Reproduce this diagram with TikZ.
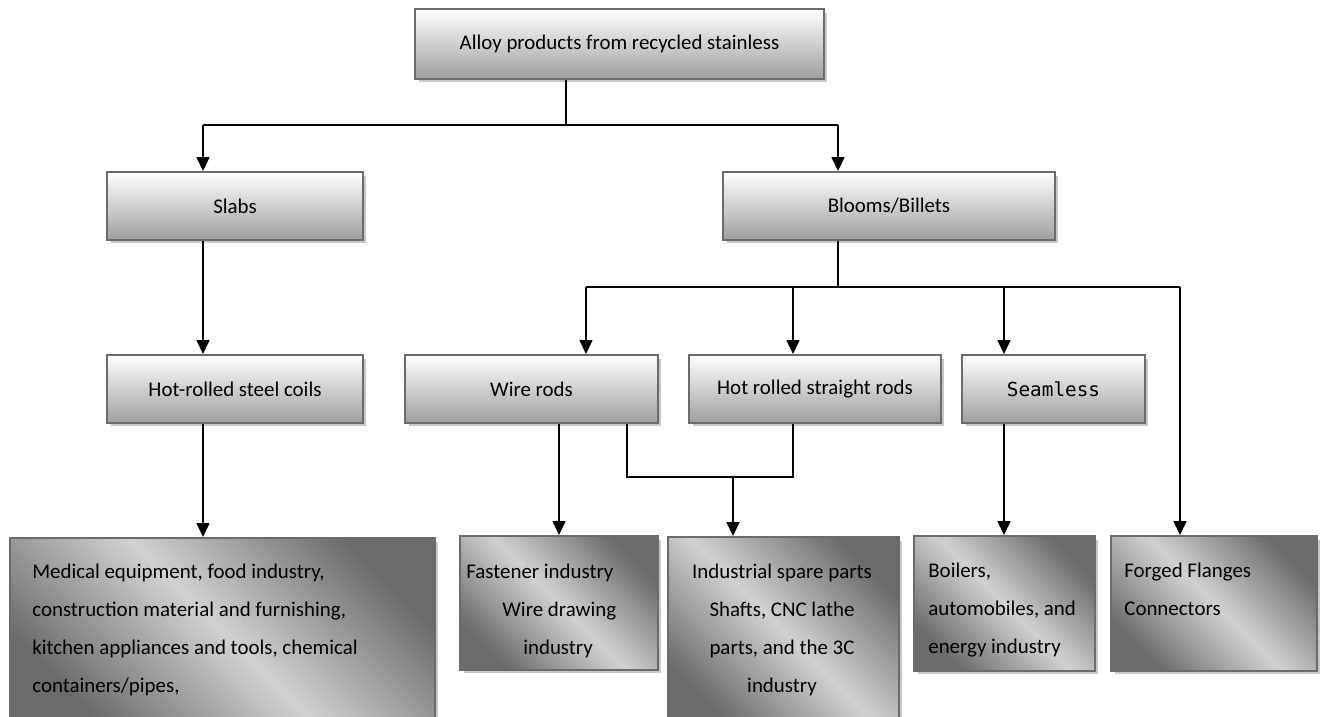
\documentclass[tikz,border=0pt]{standalone}
\usepackage{fontspec}
\setmainfont{Carlito}
\newfontfamily\seamfont{DejaVu Sans Mono}
\usetikzlibrary{arrows.meta,shadows}

\begin{document}
\begin{tikzpicture}[
    x=0.02cm, y=-0.02cm,
    every node/.style={font=\fontsize{11.9}{21.5}\selectfont},
    box/.style={draw=black!58, line width=1.1pt, minimum height=1.36cm, inner sep=0pt,
      top color=white, bottom color=black!38,
      drop shadow={shadow xshift=0.07cm, shadow yshift=-0.07cm, fill=black!22, opacity=1}},
    enduse/.style={box, top color=black!58, bottom color=black!58, middle color=black!18, shading angle=-45},
    txt/.style={align=left, anchor=north west, inner sep=0pt},
    line/.style={line width=0.85pt},
    arr/.style={line, -{Triangle[width=0.26cm,length=0.28cm]}}
]
\useasboundingbox (0,0) rectangle (1323,717);

% source and semi-finished products
\node[box, minimum width=8.18cm, minimum height=1.40cm] (alloy) at (619.5,44) {Alloy products from recycled stainless};
\node[box, minimum width=5.12cm] (slabs) at (235,206) {Slabs};
\node[box, minimum width=6.64cm] (blooms) at (889,206) {Blooms/Billets};

% rolled products
\node[box, minimum width=5.12cm] (coils) at (235,389) {Hot-rolled steel coils};
\node[box, minimum width=5.06cm] (wire) at (531.5,389) {Wire rods};
\node[box, minimum width=5.04cm] (straight) at (815,389) {Hot rolled straight rods};
\node[box, minimum width=3.66cm, font=\seamfont\fontsize{11}{13}\selectfont] (seamless) at (1053.5,389) {Seamless};

% end uses
\node[enduse, minimum width=8.5cm, minimum height=3.74cm] (medical) at (222.5,631.5) {};
\node[enduse, minimum width=3.96cm, minimum height=2.68cm] (fastener) at (559,603) {};
\node[enduse, minimum width=4.62cm, minimum height=3.76cm] (spare) at (783.5,631) {};
\node[enduse, minimum width=3.62cm, minimum height=2.70cm] (boilers) at (1004.5,603.5) {};
\node[enduse, minimum width=4.12cm, minimum height=2.70cm] (forged) at (1214,603.5) {};

\node[txt] (medical-t) at (32,564) {Medical equipment, food industry,\\construction material and furnishing,\\kitchen appliances and tools, chemical\\containers/pipes,};
\node[txt] (fastener-t) at (466,564) {Fastener industry\\\hspace*{20.5pt}Wire drawing\\\hspace*{32.4pt}industry};
\node[txt, align=center, anchor=north] (spare-t) at (782,564) {Industrial spare parts\\Shafts, CNC lathe\\parts, and the 3C\\industry};
\node[txt] (boilers-t) at (928,563) {Boilers,\\automobiles, and\\energy industry};
\node[txt] (forged-t) at (1124,563) {Forged Flanges\\Connectors};

% junctions
\coordinate (j0) at (566,125);
\coordinate (j1) at (203,125);
\coordinate (j2) at (838,125);
\coordinate (k0) at (838,287);
\coordinate (k1) at (586,287);
\coordinate (k2) at (793,287);
\coordinate (k3) at (1004,287);
\coordinate (k4) at (1180,287);
\coordinate (m1) at (627,477);
\coordinate (m2) at (793,477);
\coordinate (m0) at (733,477);

\draw[line] (alloy.south -| j0) -- (j0);
\draw[line] (j1) -- (j2);
\draw[arr] (j1) -- (j1 |- slabs.north);
\draw[arr] (j2) -- (j2 |- blooms.north);
\draw[arr] (j1 |- slabs.south) -- (j1 |- coils.north);
\draw[arr] (j1 |- coils.south) -- (j1 |- medical.north);

\draw[line] (blooms.south -| k0) -- (k0);
\draw[line] (k1) -- (k4);
\draw[arr] (k1) -- (k1 |- wire.north);
\draw[arr] (k2) -- (k2 |- straight.north);
\draw[arr] (k3) -- (k3 |- seamless.north);
\draw[arr] (k4) -- (k4 |- forged.north);

\draw[arr] (wire.south -| fastener.north) -- (fastener.north);
\draw[line] (wire.south -| m1) -- (m1) -- (m2) -- (straight.south -| m2);
\draw[arr] (m0) -- (m0 |- spare.north);
\draw[arr] (seamless.south -| k3) -- (k3 |- boilers.north);
\end{tikzpicture}
\end{document}
